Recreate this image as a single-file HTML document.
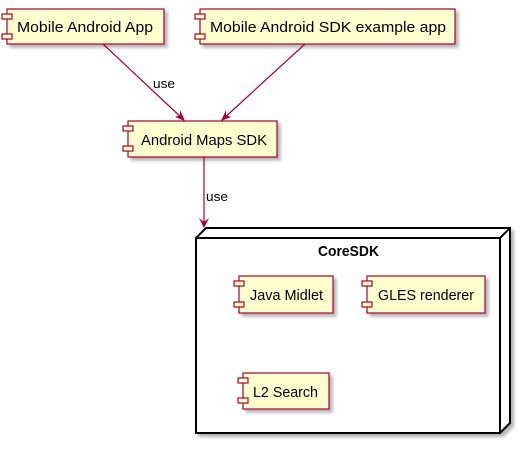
<!DOCTYPE html>
<html><head><meta charset="utf-8"><style>body{margin:0;background:#fff}</style></head><body>
<svg width="520" height="444" xmlns="http://www.w3.org/2000/svg" font-family="'Liberation Sans',sans-serif">
<defs><filter id="s" x="-10%" y="-10%" width="130%" height="140%"><feDropShadow dx="3" dy="3" stdDeviation="1.5" flood-color="#000" flood-opacity="0.3"/></filter></defs>
<g stroke="#A80036" stroke-width="1.2" fill="#FEFECE">
<rect x="7" y="9" width="157" height="35" filter="url(#s)"/>
<rect x="2" y="14" width="10" height="5"/><rect x="2" y="34" width="10" height="5"/>
<rect x="200" y="9" width="255" height="35" filter="url(#s)"/>
<rect x="195" y="14" width="10" height="5"/><rect x="195" y="34" width="10" height="5"/>
<rect x="128" y="121" width="149" height="36" filter="url(#s)"/>
<rect x="123" y="126" width="10" height="5"/><rect x="123" y="146" width="10" height="5"/>
</g>
<g stroke="#000" stroke-width="2" fill="#fff">
<polygon points="196,238 206,228 510,228 510,423 500,433 196,433" filter="url(#s)"/>
<polyline points="196,238 500,238 510,228" fill="none"/>
<line x1="500" y1="238" x2="500" y2="433"/>
</g>
<g stroke="#A80036" stroke-width="1.2" fill="#FEFECE">
<rect x="239" y="276" width="94" height="37" filter="url(#s)"/>
<rect x="234" y="281" width="10" height="5"/><rect x="234" y="302" width="10" height="5"/>
<rect x="367" y="276" width="118" height="37" filter="url(#s)"/>
<rect x="362" y="281" width="10" height="5"/><rect x="362" y="302" width="10" height="5"/>
<rect x="243" y="373" width="86" height="36" filter="url(#s)"/>
<rect x="238" y="378" width="10" height="5"/><rect x="238" y="398" width="10" height="5"/>
</g>
<g stroke="#A80036" stroke-width="1.2" fill="none">
<line x1="103" y1="44" x2="184" y2="120"/>
<line x1="305" y1="44" x2="222" y2="120"/>
<line x1="204" y1="157" x2="204" y2="227"/>
</g>
<g fill="#A80036">
<polygon points="185,121 175,117 180,115 180,110"/>
<polygon points="221,121 226,110 226,115 231,117"/>
<polygon points="204,228 199,218 204,222 209,218"/>
</g>
<g font-size="15" fill="#000" lengthAdjust="spacingAndGlyphs">
<text x="17" y="32" textLength="136" lengthAdjust="spacingAndGlyphs">Mobile Android App</text>
<text x="210" y="32" textLength="236" lengthAdjust="spacingAndGlyphs">Mobile Android SDK example app</text>
<text x="141" y="145" textLength="126" lengthAdjust="spacingAndGlyphs">Android Maps SDK</text>
<text x="250" y="300" textLength="73" lengthAdjust="spacingAndGlyphs">Java Midlet</text>
<text x="378" y="300" textLength="96" lengthAdjust="spacingAndGlyphs">GLES renderer</text>
<text x="253" y="397" textLength="65" lengthAdjust="spacingAndGlyphs">L2 Search</text>
<text x="318" y="256" font-weight="bold" textLength="61" lengthAdjust="spacingAndGlyphs">CoreSDK</text>
</g>
<g font-size="13" fill="#000">
<text x="153" y="88" textLength="22" lengthAdjust="spacingAndGlyphs">use</text>
<text x="206" y="201" textLength="22" lengthAdjust="spacingAndGlyphs">use</text>
</g>
</svg>
</body></html>
